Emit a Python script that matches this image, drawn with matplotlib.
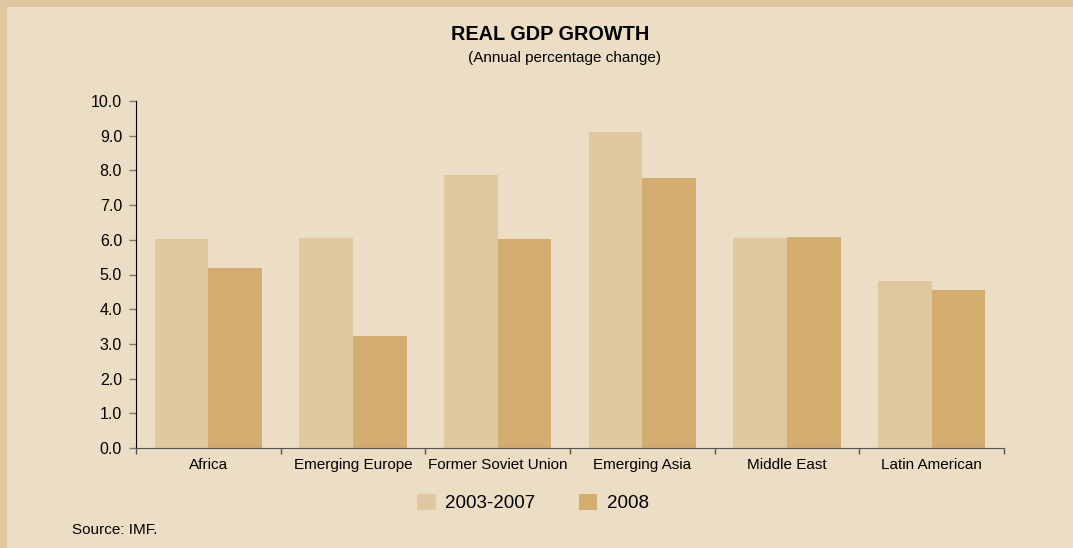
import numpy as np
import matplotlib
matplotlib.use('Agg')
import matplotlib.pyplot as plt
from matplotlib.patches import Rectangle, Patch

plt.rcParams['font.family'] = ['Liberation Sans', 'DejaVu Sans']

# Dados
regioes = ['Africa', 'Emerging Europe', 'Former Soviet Union', 'Emerging Asia',
           'Middle East', 'Latin American']
media_2003_2007 = [6.01, 6.04, 7.87, 9.12, 6.06, 4.82]
ano_2008 = [5.20, 3.22, 6.01, 7.78, 6.09, 4.56]
rotulos_serie = ['2003-2007', '2008']
yticks = np.arange(0, 10.1, 1.0)

cor_borda = '#E0C7A0'
cor_fundo = '#EBDEC4'
cor_clara = '#E0C7A0'
cor_escura = '#D3AC6F'

fig = plt.figure(figsize=(10.73, 5.48), dpi=100)
fig.patch.set_facecolor(cor_borda)
# painel interno (moldura a esquerda e em cima)
fig.patches.append(Rectangle((7 / 1073, 0), 1 - 7 / 1073, 1 - 7 / 548,
                             transform=fig.transFigure, facecolor=cor_fundo,
                             edgecolor='none', zorder=-10))

ax = fig.add_axes([136 / 1073, 1 - 448 / 548, (1004 - 136) / 1073, (448 - 101) / 548])
ax.set_facecolor(cor_fundo)
ax.set_zorder(1)

x = np.arange(len(regioes))
w = 0.37
ax.bar(x - w / 2, media_2003_2007, width=w, color=cor_clara, label=rotulos_serie[0])
ax.bar(x + w / 2, ano_2008, width=w, color=cor_escura, label=rotulos_serie[1])

ax.set_xlim(-0.5, len(regioes) - 0.5)
ax.set_ylim(0, 10)
ax.set_yticks(yticks)
ax.set_yticklabels([f'{v:.1f}' for v in yticks], fontsize=11.5)
ax.set_xticks(x)
ax.set_xticklabels(regioes, fontsize=11)
ax.set_xticks(np.arange(-0.5, len(regioes)), minor=True)
ax.tick_params(axis='x', which='major', length=0, pad=7)
ax.tick_params(axis='x', which='minor', length=4.3, width=1, color='#555555', direction='out')
ax.tick_params(axis='y', length=5, width=1, color='#777777', pad=5)

for s in ['top', 'right']:
    ax.spines[s].set_visible(False)
ax.spines['left'].set_color('black')
ax.spines['bottom'].set_color('#555555')

fig.text(550 / 1073, 1 - 35 / 548, 'REAL GDP GROWTH', ha='center', va='center',
         fontsize=14.3, fontweight='bold')
fig.text(565 / 1073, 1 - 58 / 548, '(Annual percentage change)', ha='center', va='center',
         fontsize=11)
fig.text(72 / 1073, 1 - 530 / 548, 'Source: IMF.', ha='left', va='center', fontsize=11)

handles = [Patch(facecolor=cor_clara, label=rotulos_serie[0]),
           Patch(facecolor=cor_escura, label=rotulos_serie[1])]
fig.legend(handles=handles, loc='center', bbox_to_anchor=(533 / 1073, 1 - 503 / 548),
           ncol=2, frameon=False, fontsize=13.5, handlelength=1.0, handleheight=1.0,
           columnspacing=2.3, handletextpad=0.5)

plt.savefig('out.png', dpi=100, facecolor=fig.get_facecolor())
